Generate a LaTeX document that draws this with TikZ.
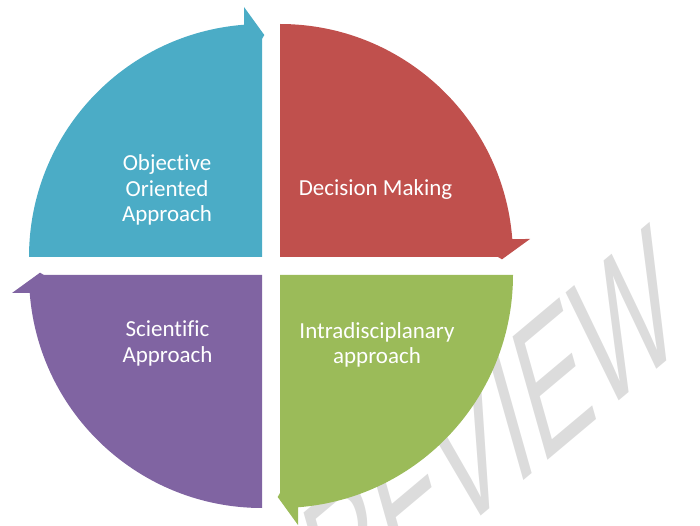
\documentclass[tikz,border=0pt]{standalone}
\usepackage{fontspec}
\setmainfont{Carlito}[Ligatures={NoCommon}]
\newfontfamily\markfont{Liberation Sans}

\definecolor{segblue}{HTML}{4BACC6}
\definecolor{segred}{HTML}{C0504D}
\definecolor{seggreen}{HTML}{9BBB59}
\definecolor{segpurple}{HTML}{8064A2}
\definecolor{markgray}{HTML}{DCDCDC}

\tikzset{
	seglabel/.style={text=white, align=center, inner sep=0pt, font=\fontsize{19.6}{21.8}\selectfont},
	wmark/.style={text=markgray, inner sep=0pt, font=\markfont\fontsize{145}{145}\selectfont}
}

\begin{document}
\begin{tikzpicture}[x=0.03cm, y=0.03cm]
				\useasboundingbox (0,0) rectangle (700,525);
				
				% Watermark
				\begin{scope}[shift={(461,68)}, rotate=40, xslant=0.45, xscale=0.69]
					\node (mark) [wmark, transform shape] at (0,0) {PREVIEW};
				\end{scope}
				
				% Segments
				\foreach \ang/\col in {0/segblue, -90/segred, -180/seggreen, -270/segpurple}
					\fill[\col, shift={(271,259)}, rotate=\ang] (-9,9) -- (-242,9) arc[start angle=180, end angle=94.43, radius=233] -- (-27,259) -- (-6.7,231) -- (-9,227) -- cycle;
				
				% Labels
				\node (objective) [seglabel] at (167,335) {Objective\\Oriented\\Approach};
				\node (decision) [seglabel] at (375.5,335.5) {Decision Making};
				\node (scientific) [seglabel] at (167.5,181.5) {Scientific\\Approach};
				\node (intra) [seglabel] at (377,180) {Intradisciplanary\\approach};
			\end{tikzpicture}
\end{document}
